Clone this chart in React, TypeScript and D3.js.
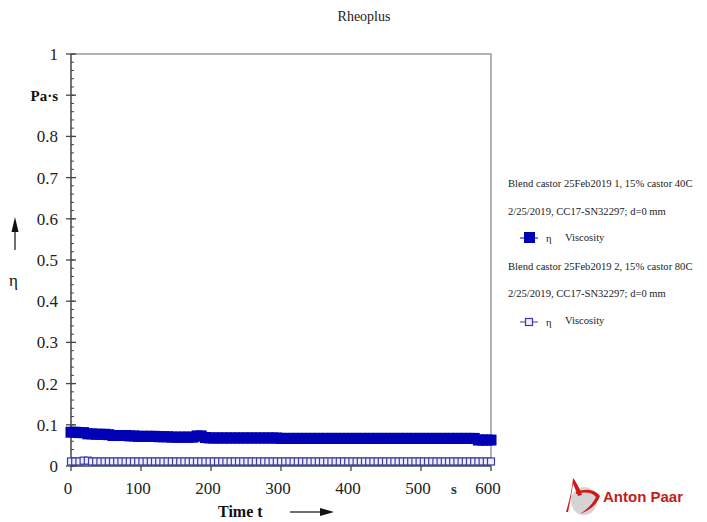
import React, { useEffect, useRef } from 'react';
import * as d3 from 'd3';

// time in s (measuring points)
const timeS = [
  0, 6, 12, 18, 24, 30, 36, 42, 48, 54,
  60, 66, 72, 78, 84, 90, 96, 102, 108, 114,
  120, 126, 132, 138, 144, 150, 156, 162, 168, 174,
  180, 186, 192, 198, 204, 210, 216, 222, 228, 234,
  240, 246, 252, 258, 264, 270, 276, 282, 288, 294,
  300, 306, 312, 318, 324, 330, 336, 342, 348, 354,
  360, 366, 372, 378, 384, 390, 396, 402, 408, 414,
  420, 426, 432, 438, 444, 450, 456, 462, 468, 474,
  480, 486, 492, 498, 504, 510, 516, 522, 528, 534,
  540, 546, 552, 558, 564, 570, 576, 582, 588, 594,
  600
];

// Blend castor 25Feb2019 1, 15% castor 40C  (Pa·s)
const visc40 = [
  0.082, 0.082, 0.081, 0.081, 0.078, 0.078, 0.077, 0.077, 0.077, 0.076,
  0.074, 0.074, 0.074, 0.074, 0.073, 0.073, 0.072, 0.072, 0.072, 0.072,
  0.072, 0.071, 0.071, 0.071, 0.070, 0.070, 0.070, 0.070, 0.070, 0.070,
  0.073, 0.073, 0.069, 0.068, 0.068, 0.068, 0.068, 0.068, 0.068, 0.068,
  0.068, 0.068, 0.068, 0.068, 0.068, 0.068, 0.068, 0.068, 0.068, 0.068,
  0.067, 0.067, 0.067, 0.067, 0.067, 0.067, 0.067, 0.067, 0.067, 0.067,
  0.067, 0.067, 0.067, 0.067, 0.067, 0.067, 0.067, 0.067, 0.067, 0.067,
  0.067, 0.067, 0.067, 0.067, 0.067, 0.067, 0.067, 0.067, 0.067, 0.067,
  0.067, 0.067, 0.067, 0.067, 0.067, 0.067, 0.067, 0.067, 0.067, 0.067,
  0.067, 0.067, 0.067, 0.067, 0.067, 0.067, 0.067, 0.063, 0.063, 0.063,
  0.063
];

// Blend castor 25Feb2019 2, 15% castor 80C  (Pa·s)
const visc80 = [
  0.011, 0.011, 0.011, 0.013, 0.013, 0.011, 0.011, 0.011, 0.011, 0.011,
  0.011, 0.011, 0.011, 0.011, 0.011, 0.011, 0.011, 0.011, 0.011, 0.011,
  0.011, 0.011, 0.011, 0.011, 0.011, 0.011, 0.011, 0.011, 0.011, 0.011,
  0.011, 0.011, 0.011, 0.011, 0.011, 0.011, 0.011, 0.011, 0.011, 0.011,
  0.011, 0.011, 0.011, 0.011, 0.011, 0.011, 0.011, 0.011, 0.011, 0.011,
  0.011, 0.011, 0.011, 0.011, 0.011, 0.011, 0.011, 0.011, 0.011, 0.011,
  0.011, 0.011, 0.011, 0.011, 0.011, 0.011, 0.011, 0.011, 0.011, 0.011,
  0.011, 0.011, 0.011, 0.011, 0.011, 0.011, 0.011, 0.011, 0.011, 0.011,
  0.011, 0.011, 0.011, 0.011, 0.011, 0.011, 0.011, 0.011, 0.011, 0.011,
  0.011, 0.011, 0.011, 0.011, 0.011, 0.011, 0.011, 0.011, 0.011, 0.011,
  0.011
];

const xTicks = [0, 100, 200, 300, 400, 500, 600];
const yTicks = [0, 0.1, 0.2, 0.3, 0.4, 0.5, 0.6, 0.7, 0.8, 1];

const legendLines = [
  'Blend castor 25Feb2019 1, 15% castor 40C',
  '2/25/2019, CC17-SN32297; d=0 mm',
  'Blend castor 25Feb2019 2, 15% castor 80C',
  '2/25/2019, CC17-SN32297; d=0 mm'
];

const serif = '"Liberation Serif", "Times New Roman", "DejaVu Serif", serif';

export default function App() {
  const ref = useRef<SVGSVGElement>(null);

  useEffect(() => {
    const svg = d3.select(ref.current);
    svg.selectAll('*').remove();

    const margin = { top: 54, left: 71, right: 216, bottom: 56 };
    const W = 707, H = 522;
    const x = d3.scaleLinear().domain([0, 600]).range([margin.left, W - margin.right]);
    const y = d3.scaleLinear().domain([0, 1]).range([H - margin.bottom, margin.top]);

    // frame (top + right)
    svg.append('path')
      .attr('d', `M${x(0)},${y(1)}H${x(600)}V${y(0)}`)
      .attr('fill', 'none').attr('stroke', '#9a9a9a').attr('stroke-width', 1.5);

    // y axis
    const ya = svg.append('g');
    ya.append('line').attr('x1', x(0)).attr('x2', x(0)).attr('y1', y(0)).attr('y2', y(1))
      .attr('stroke', '#444').attr('stroke-width', 1.5);
    d3.range(0, 1.0001, 0.02).forEach(v => {
      ya.append('line').attr('x1', x(0)).attr('x2', x(0) + 3)
        .attr('y1', y(v)).attr('y2', y(v)).attr('stroke', '#444');
    });
    d3.range(0, 1.0001, 0.1).forEach(v => {
      ya.append('line').attr('x1', x(0) - 5).attr('x2', x(0) + 5)
        .attr('y1', y(v)).attr('y2', y(v)).attr('stroke', '#444').attr('stroke-width', 1.3);
    });
    ya.selectAll('text.yt').data(yTicks).join('text')
      .attr('class', 'yt')
      .attr('x', x(0) - 13).attr('y', d => y(d) + 6)
      .attr('text-anchor', 'end').attr('font-family', serif).attr('font-size', 17).attr('fill', '#222')
      .text(d => d === 0 ? '0' : d === 1 ? '1' : d.toFixed(1));
    ya.append('text').attr('x', x(0) - 13).attr('y', y(0.9) + 6)
      .attr('text-anchor', 'end').attr('font-family', serif).attr('font-size', 15)
      .attr('font-weight', 'bold').attr('fill', '#111').text('Pa·s');

    // x axis
    const xa = svg.append('g');
    xa.append('line').attr('x1', x(0)).attr('x2', x(600)).attr('y1', y(0)).attr('y2', y(0))
      .attr('stroke', '#444').attr('stroke-width', 1.5);
    xa.selectAll('line.xt').data(xTicks).join('line')
      .attr('class', 'xt')
      .attr('x1', d => x(d)).attr('x2', d => x(d)).attr('y1', y(0)).attr('y2', y(0) + 5)
      .attr('stroke', '#444').attr('stroke-width', 1.3);
    xa.selectAll('text.xl').data(xTicks).join('text')
      .attr('class', 'xl')
      .attr('x', d => x(d) - 3).attr('y', y(0) + 28)
      .attr('text-anchor', 'middle').attr('font-family', serif).attr('font-size', 17).attr('fill', '#222')
      .text(d => d);
    xa.append('text').attr('x', x(550) - 2).attr('y', y(0) + 28)
      .attr('text-anchor', 'middle').attr('font-family', serif).attr('font-size', 15)
      .attr('font-weight', 'bold').attr('fill', '#334').text('s');

    // axis titles
    svg.append('text').attr('x', 218).attr('y', 517)
      .attr('font-family', serif).attr('font-size', 16).attr('font-weight', 'bold').attr('fill', '#111')
      .text('Time t');
    svg.append('line').attr('x1', 290).attr('x2', 322).attr('y1', 512).attr('y2', 512)
      .attr('stroke', '#111').attr('stroke-width', 1.2);
    svg.append('path').attr('d', 'M320,508 L334,512 L320,516 Z').attr('fill', '#111');

    svg.append('text').attr('x', 9).attr('y', 286)
      .attr('font-family', serif).attr('font-size', 17).attr('fill', '#111').text('η');
    svg.append('line').attr('x1', 15).attr('x2', 15).attr('y1', 250).attr('y2', 228)
      .attr('stroke', '#111').attr('stroke-width', 1.2);
    svg.append('path').attr('d', 'M11.5,232 L15,217 L18.5,232 Z').attr('fill', '#111');

    // title
    svg.append('text').attr('x', 364).attr('y', 21)
      .attr('text-anchor', 'middle').attr('font-family', serif).attr('font-size', 14).attr('fill', '#222')
      .text('Rheoplus');

    const pts1 = timeS.map((t, i) => [t, visc40[i]] as [number, number]);
    const pts2 = timeS.map((t, i) => [t, visc80[i]] as [number, number]);
    const line = d3.line<[number, number]>().x(d => x(d[0])).y(d => y(d[1]));

    // series 1: filled squares
    svg.append('path').attr('d', line(pts1)).attr('fill', 'none').attr('stroke', '#0000b0').attr('stroke-width', 1);
    svg.append('g').selectAll('rect').data(pts1).join('rect')
      .attr('x', d => x(d[0]) - 5.5).attr('y', d => y(d[1]) - 5.5)
      .attr('width', 11).attr('height', 11).attr('fill', '#0000b4');

    // series 2: open squares
    svg.append('path').attr('d', line(pts2)).attr('fill', 'none').attr('stroke', '#3c3ca0').attr('stroke-width', 1);
    svg.append('g').selectAll('rect').data(pts2).join('rect')
      .attr('x', d => x(d[0]) - 3.5).attr('y', d => y(d[1]) - 3.5)
      .attr('width', 7).attr('height', 7).attr('fill', '#eeeeff')
      .attr('stroke', '#3c3ca0').attr('stroke-width', 1.2);

    // legend
    const lg = svg.append('g').attr('font-family', serif).attr('font-size', 10.6).attr('fill', '#222');
    const lx = 508;
    lg.append('text').attr('x', lx).attr('y', 187).text(legendLines[0]);
    lg.append('text').attr('x', lx).attr('y', 215).text(legendLines[1]);
    lg.append('text').attr('x', lx).attr('y', 270).text(legendLines[2]);
    lg.append('text').attr('x', lx).attr('y', 297).text(legendLines[3]);

    lg.append('line').attr('x1', 520).attr('x2', 538).attr('y1', 238).attr('y2', 238).attr('stroke', '#0000b0');
    lg.append('rect').attr('x', 524).attr('y', 232).attr('width', 11).attr('height', 11).attr('fill', '#0000b4');
    lg.append('text').attr('x', 546).attr('y', 242).text('η');
    lg.append('text').attr('x', 565).attr('y', 241).text('Viscosity');

    lg.append('line').attr('x1', 520).attr('x2', 538).attr('y1', 322).attr('y2', 322).attr('stroke', '#3c3ca0');
    lg.append('rect').attr('x', 525.5).attr('y', 318.5).attr('width', 7).attr('height', 7)
      .attr('fill', '#eeeeff').attr('stroke', '#3c3ca0').attr('stroke-width', 1.2);
    lg.append('text').attr('x', 546).attr('y', 326).text('η');
    lg.append('text').attr('x', 565).attr('y', 324).text('Viscosity');

    // Anton Paar logo
    const logo = svg.append('g');
    logo.append('ellipse').attr('cx', 584).attr('cy', 501).attr('rx', 13).attr('ry', 14)
      .attr('fill', '#d4d4d4');
    logo.append('path')
      .attr('d', 'M566,512 Q572,492 573,478 Q578,484 582,495 L578,496 Q575,488 573,484 Q571,498 568,512 Z')
      .attr('fill', '#d01818');
    logo.append('path')
      .attr('d', 'M576,492 Q592,486 600,496 Q596,508 580,514 Q592,506 596,497 Q590,490 576,494 Z')
      .attr('fill', '#d01818');
    logo.append('text').attr('x', 603).attr('y', 502)
      .attr('font-family', '"Liberation Sans", Arial, sans-serif').attr('font-size', 15)
      .attr('font-weight', 'bold').attr('fill', '#c81a1a').text('Anton Paar');
  }, []);

  return (
    <svg ref={ref} width={707} height={522}
      style={{ position: 'absolute', left: 0, top: 0, background: '#fff' }} />
  );
}
